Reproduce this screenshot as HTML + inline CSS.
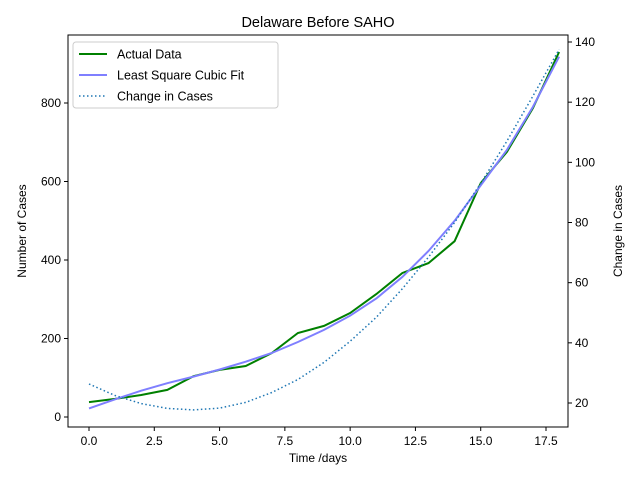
<!DOCTYPE html>
<html><head><meta charset="utf-8"><style>body{margin:0;background:#fff}svg{display:block;font-family:"Liberation Sans","DejaVu Sans",sans-serif}</style></head>
<body>
<svg id="chart" width="640" height="480" xmlns="http://www.w3.org/2000/svg"></svg>
<script>
const days=[0,1,2,3,4,5,6,7,8,9,10,11,12,13,14,15,16,17,18];
const actualCases=[38,46,56,69,104,120,130,163,214,232,265,313,367,392,448,596,675,787,930];
const fitCases=[22,45,67,86,103,121,141,163,191,222,258,302,357,423,500,590,680,790,918];
const changeCases=[26.3,22.5,19.8,18.2,17.7,18.3,20.2,23.5,27.8,33.5,40.5,48.5,58,68.5,80,93,107,122,137.5];
const xTicks=[0,2.5,5,7.5,10,12.5,15,17.5];
const xTickLabels=["0.0","2.5","5.0","7.5","10.0","12.5","15.0","17.5"];
const yTicks=[0,200,400,600,800];
const y2Ticks=[20,40,60,80,100,120,140];
const svg=document.getElementById('chart');
const NS='http://www.w3.org/2000/svg';
const L=68,R=568,T=35,B=427;
const x=v=>89+v*(546-89)/17.5;
const y=v=>417-v*(417-103)/800;
const y2=v=>403-(v-20)*(403-42)/120;
function mk(t,a,txt){const e=document.createElementNS(NS,t);for(const k in a)e.setAttribute(k,a[k]);if(txt!==undefined)e.textContent=txt;svg.appendChild(e);return e;}
let e;
e=mk('rect',{x:L,y:T,width:R-L,height:B-T,fill:'none',stroke:'#000','stroke-width':1});

xTicks.forEach((t,i)=>{mk('line',{x1:x(t),x2:x(t),y1:B,y2:B+4,stroke:'#000'});
 e=mk('text',{x:x(t),y:B+18,'font-size':12,'text-anchor':'middle'},xTickLabels[i]);
 });
yTicks.forEach(t=>{mk('line',{x1:L-4,x2:L,y1:y(t),y2:y(t),stroke:'#000'});
 e=mk('text',{x:L-7,y:y(t)+4,'font-size':12,'text-anchor':'end'},t);
 });
y2Ticks.forEach(t=>{mk('line',{x1:R,x2:R+4,y1:y2(t),y2:y2(t),stroke:'#000'});
 e=mk('text',{x:R+7,y:y2(t)+4,'font-size':12},t);
 });
function path(vals,fy){return vals.map((v,i)=>(i?'L':'M')+x(days[i]).toFixed(1)+' '+fy(v).toFixed(1)).join(' ');}
e=mk('path',{d:path(actualCases,y),fill:'none',stroke:'#008000','stroke-width':2});

e=mk('path',{d:path(fitCases,y),fill:'none',stroke:'#7f7fff','stroke-width':2});

e=mk('path',{d:path(changeCases,y2),fill:'none',stroke:'#1f77b4','stroke-width':1.5,'stroke-dasharray':'1.5 2.5'});

e=mk('text',{x:318,y:27,'font-size':14.5,'text-anchor':'middle'},'Delaware Before SAHO');

e=mk('text',{x:318,y:462,'font-size':12,'text-anchor':'middle'},'Time /days');

e=mk('text',{x:0,y:0,'font-size':12,'text-anchor':'middle',transform:'translate(26,231) rotate(-90)'},'Number of Cases');

e=mk('text',{x:0,y:0,'font-size':12,'text-anchor':'middle',transform:'translate(622,231) rotate(-90)'},'Change in Cases');

e=mk('rect',{x:73,y:42,width:205,height:66,rx:3,fill:'#fff','fill-opacity':0.8,stroke:'#ccc'});

const leg=[['Actual Data','#008000',2,''],['Least Square Cubic Fit','#7f7fff',2,''],['Change in Cases','#1f77b4',1.5,'1.5 2.5']];
leg.forEach((l,i)=>{const yy=54+i*21;
 mk('line',{x1:79,x2:107,y1:yy,y2:yy,stroke:l[1],'stroke-width':l[2],'stroke-dasharray':l[3]||'none'});
 e=mk('text',{x:117,y:yy+4.5,'font-size':12.5},l[0]);
 });
</script>
</body></html>
